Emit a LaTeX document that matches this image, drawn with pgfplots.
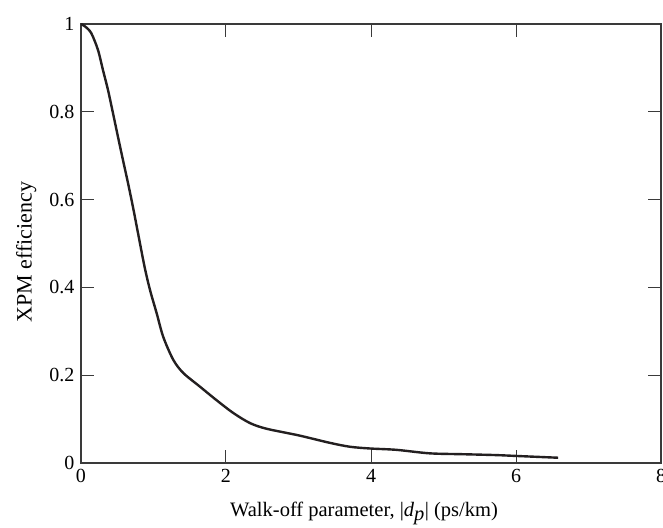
\documentclass[border=0pt]{standalone}
\usepackage{pgfplots}
\pgfplotsset{compat=1.18}
\usepackage{fontspec}
\setmainfont{Liberation Serif}
\definecolor{curve}{HTML}{231F20}
\definecolor{frame}{HTML}{3A3A3A}
\begin{document}
\begin{tikzpicture}
% page = 663 x 527 (1px = 1pt), axis box at (81,24)-(661,463)
\useasboundingbox (-81pt,-64pt) rectangle (582pt,463pt);
\clip (-81pt,-64pt) rectangle (582pt,463pt);
\begin{axis}[
  scale only axis,
  width=580pt, height=439pt,
  xmin=0, xmax=8, ymin=0, ymax=1,
  xtick={0,2,4,6,8},
  ytick={0,0.2,0.4,0.6,0.8,1},
  yticklabels={0,0.2,0.4,0.6,0.8,1},
  tick align=inside,
  major tick length=13pt,
  axis line style={frame, line width=1.1pt},
  every tick/.style={frame, line width=1pt},
  /pgf/number format/assume math mode=true,
  ticklabel style={font=\fontsize{20}{24}\selectfont},
  xticklabel style={yshift=-3pt},
  yticklabel style={xshift=-3pt},
  xlabel={Walk-off parameter, |\textit{d}$_{\textit{p}}$| (ps/km)},
  ylabel={XPM efficiency},
  xlabel style={font=\fontsize{20.5}{24}\selectfont, at={(axis description cs:0.488,-0.123)}, anchor=base},
  ylabel style={font=\fontsize{22}{26}\selectfont, at={(axis description cs:-0.085,0.48)}, anchor=base},
]
\addplot[curve, line width=2.4pt, smooth, tension=0.5] coordinates {
  (0,1.0) (0.06,0.994) (0.142,0.979) (0.234,0.941) (0.303,0.895)
  (0.372,0.850) (0.441,0.797) (0.51,0.743) (0.579,0.690) (0.648,0.638)
  (0.717,0.583) (0.786,0.524) (0.878,0.446) (0.952,0.394) (1.044,0.341)
  (1.135,0.287) (1.273,0.235) (1.411,0.205) (1.64,0.174) (1.87,0.143)
  (2.10,0.114) (2.33,0.091) (2.56,0.078) (3.0,0.063) (3.43,0.046)
  (3.71,0.037) (3.99,0.033) (4.35,0.030) (4.81,0.022) (5.27,0.020)
  (5.73,0.018) (6.01,0.016) (6.58,0.012)
};
\end{axis}
\end{tikzpicture}
\end{document}
